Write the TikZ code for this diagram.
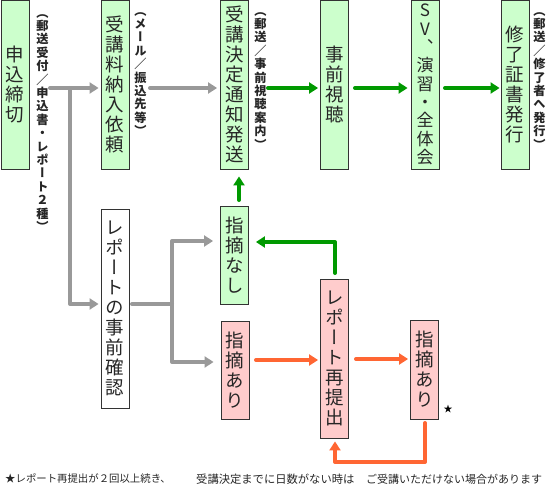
\documentclass[tikz,border=0pt]{standalone}
\usepackage{fontspec}
\newfontfamily\jpv[RawFeature=+vert]{Noto Sans CJK JP}
\newfontfamily\jp{Noto Sans CJK JP}
\usetikzlibrary{arrows.meta}
\definecolor{gfill}{HTML}{CCFFCC}
\definecolor{pfill}{HTML}{FFCCCC}
\definecolor{garr}{HTML}{009900}
\definecolor{oarr}{HTML}{FF6633}
\definecolor{grarr}{HTML}{999999}
\definecolor{bord}{HTML}{333333}
\newcommand\myslash{{\jp\bfseries ／}}
\begin{document}
\begin{tikzpicture}[x=1pt,y=-1pt,
  box/.style={draw=bord, line width=0.9pt, inner sep=0pt, align=center,
    minimum width=28pt, font=\jpv\fontsize{18.5}{20}\selectfont, text=black!85},
  gbox/.style={box, fill=gfill},
  pbox/.style={box, fill=pfill},
  wbox/.style={box, fill=white},
  note/.style={align=center, inner sep=0pt, anchor=north, text=black!85,
    font=\jpv\bfseries\fontsize{12.2}{13.4}\selectfont},
  foot/.style={anchor=west, inner sep=0pt, text=black!85},
  arr/.style={line width=4pt, line cap=round, line join=round,
    -{Triangle[length=9pt,width=11pt]}},
  grayarr/.style={arr, draw=grarr},
  greenarr/.style={arr, draw=garr},
  orangearr/.style={arr, draw=oarr},
  grayline/.style={line width=4pt, line cap=round, line join=round, draw=grarr}
]
\useasboundingbox (0,0) rectangle (547,487);
% top row
\node[gbox, minimum height=169pt] (b1) at (15,84.5) {申\\込\\締\\切};
\node[gbox, minimum height=169pt] (b2) at (115,84.5) {受\\講\\料\\納\\入\\依\\頼};
\node[gbox, minimum height=169pt] (b3) at (234.5,84.5) {受\\講\\決\\定\\通\\知\\発\\送};
\node[gbox, minimum height=169pt] (b4) at (334.5,84.5) {事\\前\\視\\聴};
\node[gbox, minimum height=169pt, font=\jpv\fontsize{17}{18.3}\selectfont] (b5) at (425,84.5) {S\\V\\、\\演\\習\\・\\全\\体\\会};
\node[gbox, minimum height=169pt] (b6) at (515,84.5) {修\\了\\証\\書\\発\\行};
% notes
\node[note] (n1txt) at (42.5,14) {（\\郵\\送\\受\\付\\\myslash\\申\\込\\書\\・\\レ\\ポ\\ー\\ト\\２\\種\\）};
\node[note] (n2txt) at (140.5,12) {（\\メ\\ー\\ル\\\myslash\\振\\込\\先\\等\\）};
\node[note] (n3txt) at (260.5,12) {（\\郵\\送\\\myslash\\事\\前\\視\\聴\\案\\内\\）};
\node[note] (n6txt) at (539.5,12) {（\\郵\\送\\\myslash\\修\\了\\者\\へ\\発\\行\\）};
% lower part
\node[wbox, minimum height=199pt] (r1) at (115,308.5) {レ\\ポ\\ー\\ト\\の\\事\\前\\確\\認};
\node[gbox, minimum height=98pt] (nn) at (234.5,255) {指\\摘\\な\\し};
\node[pbox, minimum height=98pt] (a1) at (235,370) {指\\摘\\あ\\り};
\node[pbox, minimum height=159pt] (rs) at (334.5,358.5) {レ\\ポ\\ー\\ト\\再\\提\\出};
\node[pbox, minimum height=99pt] (a2) at (424.5,369.5) {指\\摘\\あ\\り};
\node[font=\jp\fontsize{9}{10}\selectfont, inner sep=0pt] (star) at (448,409) {★};
% connectors top
\coordinate (g0) at (50,88);
\coordinate (gj) at (70,88);
\coordinate (gd) at (70,304);
\draw[grayarr, shorten >=2pt] (g0) -- (b2.west |- g0);
\draw[grayarr, shorten >=2pt] (gj) -- (gd) -- (r1.west |- gd);
\coordinate (g3) at (150,88);
\draw[grayarr, shorten >=3pt] (g3) -- (b3.west |- g3);
\coordinate (k1) at (268,88);
\coordinate (k2) at (355,88);
\coordinate (k3) at (445,88);
\draw[greenarr, shorten >=2pt] (k1) -- (b4.west |- k1);
\draw[greenarr, shorten >=3pt] (k2) -- (b5.west |- k2);
\draw[greenarr, shorten >=1pt] (k3) -- (b6.west |- k3);
% branch from r1
\coordinate (g5) at (132,304);
\coordinate (g4) at (172,304);
\coordinate (gu) at (172,241);
\coordinate (gl) at (172,362);
\draw[grayline] (g5) -- (g4);
\draw[grayarr, shorten >=7pt] (g4) -- (gu) -- (gu -| nn.west);
\draw[grayarr, shorten >=7pt] (g4) -- (gl) -- (gl -| a1.west);
% green up
\coordinate (gup) at (239,200);
\draw[greenarr, shorten >=7pt] (gup) -- (gup |- b3.south);
% orange a1 -> rs
\coordinate (o1) at (256,360);
\draw[orangearr, shorten >=2pt] (o1) -- (o1 -| rs.west);
% green rs -> nn
\coordinate (gr1) at (335,273);
\coordinate (gr2) at (335,242);
\draw[greenarr, shorten >=7pt] (gr1) -- (gr2) -- (gr2 -| nn.east);
% orange rs -> a2
\coordinate (o2) at (356,359);
\draw[orangearr, shorten >=2pt] (o2) -- (o2 -| a2.west);
% orange return
\coordinate (o3) at (425,423);
\coordinate (o4) at (425,462);
\coordinate (o5) at (335,462);
\draw[orangearr, shorten >=3pt] (o3) -- (o4) -- (o5) -- (o5 |- rs.south);
% footnote
\node[foot, font=\jp\fontsize{10.4}{12}\selectfont] (foot1) at (5,479) {★レポート再提出が２回以上続き、};
\node[foot, font=\jp\fontsize{11.3}{12}\selectfont] (foot2) at (196,479) {受講決定までに日数がない時は};
\node[foot, font=\jp\fontsize{11}{12}\selectfont] (foot3) at (366,479) {ご受講いただけない場合があります};
\end{tikzpicture}
\end{document}
